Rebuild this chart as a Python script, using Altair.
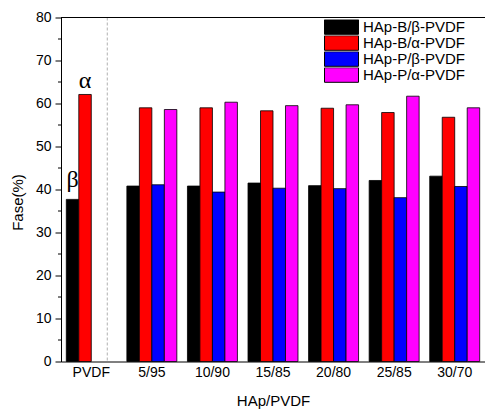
import altair as alt
import pandas as pd

categories = ["PVDF", "5/95", "10/90", "15/85", "20/80", "25/85", "30/70"]
series = ["HAp-B/β-PVDF", "HAp-B/α-PVDF", "HAp-P/β-PVDF", "HAp-P/α-PVDF"]
colors = ["#000000", "#ff0000", "#0000ff", "#ff00ff"]

hapb_beta = [37.7, 40.8, 40.8, 41.5, 40.9, 42.1, 43.1]
hapb_alpha = [62.1, 59.0, 59.0, 58.3, 58.9, 57.9, 56.8]
happ_beta = [None, 41.1, 39.4, 40.3, 40.2, 38.1, 40.7]
happ_alpha = [None, 58.6, 60.3, 59.5, 59.7, 61.7, 59.0]

y_ticks = [0, 10, 20, 30, 40, 50, 60, 70, 80]
y_minor = [5, 15, 25, 35, 45, 55, 65, 75]

rows = []
for s, vals in zip(series, [hapb_beta, hapb_alpha, happ_beta, happ_alpha]):
    for c, v in zip(categories, vals):
        if v is not None:
            rows.append({"cat": c, "series": s, "value": v})
df = pd.DataFrame(rows)

ann_beta = pd.DataFrame({"cat": ["PVDF"], "series": [series[0]], "value": [hapb_beta[0]], "label": ["β"]})
ann_alpha = pd.DataFrame({"cat": ["PVDF"], "series": [series[1]], "value": [hapb_alpha[0]], "label": ["α"]})
sep = pd.DataFrame({"cat": ["PVDF"]})
minor = pd.DataFrame({"value": y_minor})
top = pd.DataFrame({"value": [80]})

xscale = alt.Scale(domain=categories, paddingInner=0.175, paddingOuter=0.0875)
xaxis = alt.Axis(title="HAp/PVDF", labelAngle=0, ticks=False, labelPadding=4,
                 labelFontSize=14, titleFontSize=15, titleFontWeight="normal",
                 titleY=43.5, titleBaseline="alphabetic", grid=False)
yscale = alt.Scale(domain=[0, 80], nice=False)
yaxis = alt.Axis(title="Fase(%)", values=y_ticks, tickSize=6, labelPadding=4,
                 labelFontSize=14, titleFontSize=15, titleFontWeight="normal",
                 titleX=-43.5, titleY=184.5, titleBaseline="middle", grid=False)

X = alt.X("cat:N", sort=categories, scale=xscale, axis=xaxis, title="HAp/PVDF")
Y = alt.Y("value:Q", scale=yscale, axis=yaxis, title="Fase(%)")
XO = alt.XOffset("series:N", scale=alt.Scale(domain=series, paddingInner=0, paddingOuter=0))

bars = alt.Chart(df).mark_bar(stroke="black", strokeWidth=0.8).encode(
    x=X, xOffset=XO, y=Y,
    color=alt.Color("series:N", scale=alt.Scale(domain=series, range=colors),
                    legend=alt.Legend(title=None, orient="none", legendX=263, legendY=2,
                                      symbolType="M-1,-0.43H1V0.43H-1Z", symbolSize=1156,
                                      symbolStrokeColor="black", symbolStrokeWidth=1,
                                      symbolOpacity=1, labelFontSize=15, labelOffset=4,
                                      clipHeight=15, rowPadding=0, padding=0,
                                      labelColor="black")),
)

beta_txt = alt.Chart(ann_beta).mark_text(font="Liberation Serif", fontSize=24, baseline="alphabetic", dy=-12).encode(
    x=X, xOffset=XO, y=Y, text="label:N")
alpha_txt = alt.Chart(ann_alpha).mark_text(font="Liberation Serif", fontSize=24, baseline="alphabetic", dy=-6).encode(
    x=X, xOffset=XO, y=Y, text="label:N")

sep_rule = alt.Chart(sep).mark_rule(strokeDash=[3, 2], color="#b0b0b0", strokeWidth=1).encode(
    x=alt.X("cat:N", sort=categories, scale=xscale, axis=xaxis, title="HAp/PVDF", bandPosition=0.82))

minor_ticks = alt.Chart(minor).mark_rule(color="black", strokeWidth=1).encode(
    y=Y, x=alt.value(-3), x2=alt.value(0))

top_line = alt.Chart(top).mark_rule(color="black", strokeWidth=1).encode(y=Y)

chart = alt.layer(sep_rule, bars, beta_txt, alpha_txt, minor_ticks, top_line).properties(
    width=424, height=344,
    autosize=alt.AutoSizeParams(type="none"),
    padding={"left": 61, "top": 17.5, "right": 0, "bottom": 47.5},
).configure_view(stroke=None).configure_axis(
    domainColor="black", domainWidth=1, tickColor="black", labelColor="black",
    titleColor="black", labelFont="Liberation Sans", titleFont="Liberation Sans",
).configure_legend(labelFont="Liberation Sans")

chart.save("out.html", embed_options={"renderer": "svg", "actions": False})
